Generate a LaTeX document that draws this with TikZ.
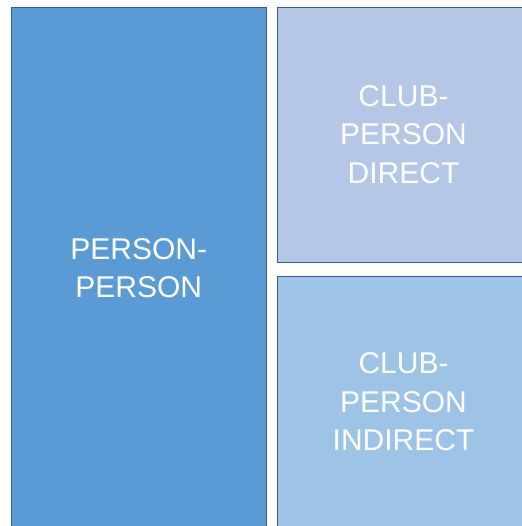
\documentclass[tikz,border=0pt]{standalone}
\usepackage{fontspec}
\setmainfont{Liberation Sans}
\usepackage{tikz}
\usetikzlibrary{positioning}
\definecolor{pairblue}{RGB}{91,155,213}
\definecolor{directblue}{RGB}{180,199,231}
\definecolor{indirectblue}{RGB}{157,195,230}
\definecolor{edgeblue}{RGB}{52,90,155}
\tikzset{
    tile/.style={draw=edgeblue, line width=0.8pt, rectangle, inner sep=0pt,
        align=center, text=white, font=\fontsize{30}{38.5}\selectfont}
}

\begin{document}
\begin{tikzpicture}[x=1pt, y=1pt]
    \useasboundingbox (0,0) rectangle (521,-526);
    \node[tile, fill=pairblue, minimum width=254.5pt, minimum height=521pt] (pp) at (138.75,-268) {PERSON-\\PERSON};
    \node[tile, fill=directblue, minimum width=253pt, minimum height=255pt] (cpd) at (403.5,-134.5) {CLUB-\\PERSON\\DIRECT};
    \node[tile, fill=indirectblue, minimum width=253pt, minimum height=252pt] (cpi) at (403.5,-402) {CLUB-\\PERSON\\INDIRECT};
\end{tikzpicture}
\end{document}
